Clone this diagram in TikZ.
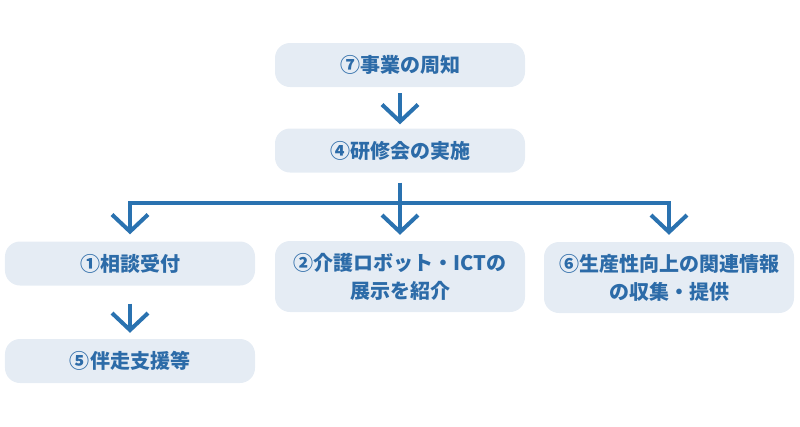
\documentclass[tikz,border=0pt]{standalone}
\usepackage{fontspec}
\setmainfont{Noto Sans CJK JP}
\usetikzlibrary{arrows.meta}
\definecolor{boxfill}{HTML}{E5ECF4}
\definecolor{txt}{HTML}{2C6BA8}
\definecolor{ln}{HTML}{2A72B0}
\tikzset{
  box/.style={fill=boxfill, rounded corners=15bp, minimum width=250bp, minimum height=44bp,
    text=txt, font=\fontsize{20bp}{28bp}\selectfont\bfseries, align=center, inner sep=0pt},
  tallbox/.style={box, minimum height=71bp},
  conn/.style={draw=ln, line width=4bp},
  arr/.style={conn, -{Straight Barb[length=17bp, width=36bp, line width=4bp]}}
}
\begin{document}
\begin{tikzpicture}[x=1bp,y=-1bp]
\useasboundingbox (0,0) rectangle (800,426);
\node[box] (b7) at (400,65) {⑦事業の周知};
\node[box] (b4) at (400,150.5) {④研修会の実施};
\node[box] (b1) at (130,263.5) {①相談受付};
\node[box] (b5) at (130,361) {⑤伴走支援等};
\node[tallbox] (b2) at (400,276.5) {②介護ロボット・ICTの\\展示を紹介};
\node[tallbox] (b6) at (669,277.5) {⑥生産性向上の関連情報\\の収集・提供};
\coordinate (j) at (400,203);
\coordinate (jl) at (130,203);
\coordinate (jr) at (669,203);
\draw[arr, shorten <=6bp, shorten >=4bp] (b7.south) -- (b4.north);
\draw[conn, shorten <=10bp] (b4.south) -- (j);
\draw[conn] ([xshift=-2bp]jl) -- ([xshift=2bp]jr);
\draw[arr, shorten >=7bp] (jl) -- (b1.north);
\draw[arr, shorten >=6bp] (j) -- (b2.north);
\draw[arr, shorten >=7bp] (jr) -- (b6.north);
\draw[arr, shorten <=18bp, shorten >=6bp] (b1.south) -- (b5.north);
\end{tikzpicture}
\end{document}
